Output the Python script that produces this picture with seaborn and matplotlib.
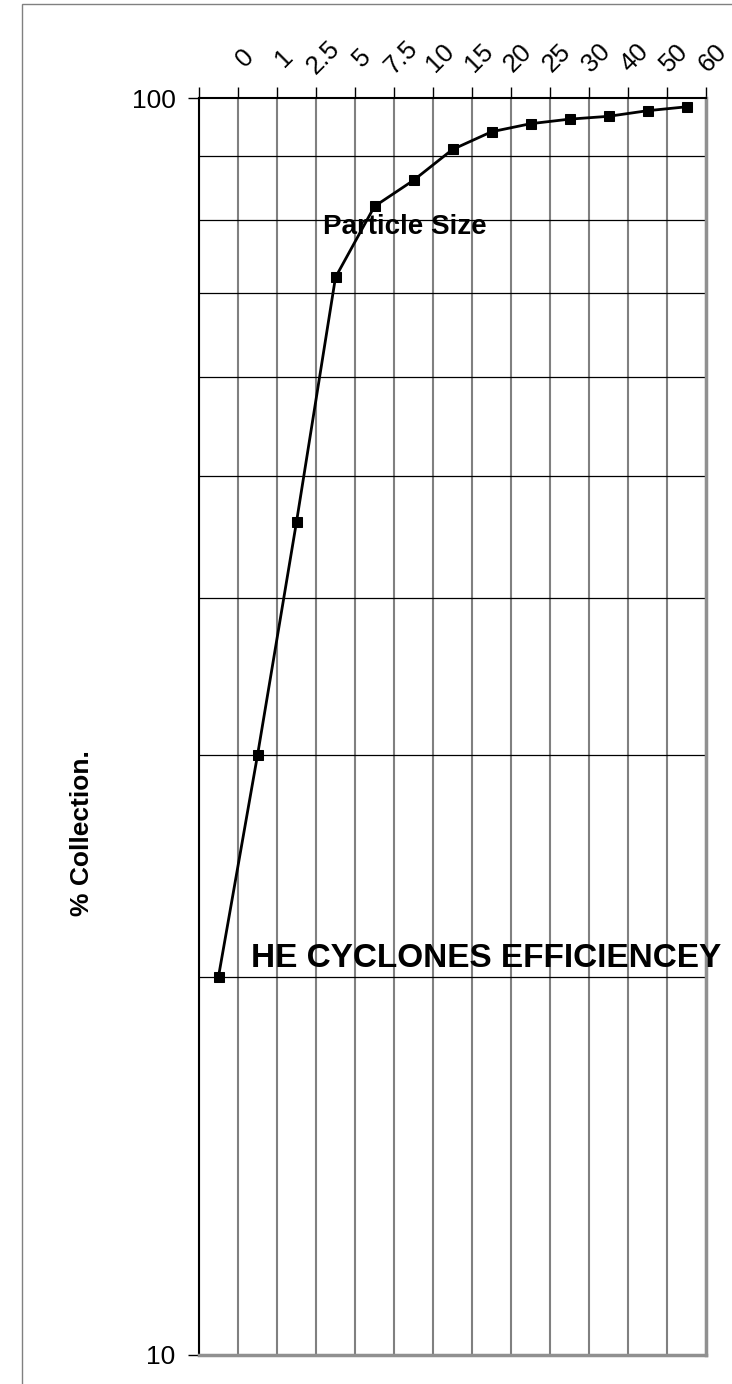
import matplotlib
matplotlib.use('Agg')
import matplotlib.pyplot as plt
import matplotlib.transforms as mtransforms
from matplotlib.patches import Rectangle
from matplotlib.ticker import FixedLocator, NullFormatter
import numpy as np
import pandas as pd
import seaborn as sns

# particle size categories (top axis) and % collection
sizes = ['0', '1', '2.5', '5', '7.5', '10', '15', '20', '25', '30', '40', '50', '60']
collection = [20, 30, 46, 72, 82, 86, 91, 94, 95.4, 96.2, 96.7, 97.7, 98.4]
y_ticks = [10, 100]
y_grid = [20, 30, 40, 50, 60, 70, 80, 90]

sns.set_style('white')
plt.rcParams['font.family'] = ['Liberation Sans', 'DejaVu Sans']
plt.rcParams['text.color'] = 'black'
plt.rcParams['axes.labelcolor'] = 'black'
plt.rcParams['xtick.color'] = 'black'
plt.rcParams['ytick.color'] = 'black'

df = pd.DataFrame({'pos': np.arange(len(sizes)), 'collection': collection})

fig = plt.figure(figsize=(7.32, 13.84), dpi=100)
ax = fig.add_axes([199 / 732, 1 - 1355 / 1384, 507 / 732, 1257 / 1384])

# grey frame round the chart, running off the right and bottom edges
fig.add_artist(Rectangle((22 / 732, -0.05), 1.0, 1 - 4 / 1384 + 0.05,
                         transform=fig.transFigure, fill=False,
                         edgecolor='#808080', lw=1))

sns.lineplot(data=df, x='pos', y='collection', marker='s', markersize=7.5,
             color='black', markeredgecolor='black', lw=2.0, ax=ax, zorder=5)

ax.set_yscale('log')
ax.set_ylim(10, 100)
ax.set_xlim(-0.5, len(sizes) - 0.5)

# y axis: only 10 and 100 labelled, gridlines at the minor decades
ax.set_yticks(y_ticks, labels=[str(v) for v in y_ticks])
ax.yaxis.set_minor_locator(FixedLocator(y_grid))
ax.yaxis.set_minor_formatter(NullFormatter())
ax.tick_params(axis='y', which='minor', length=0)
ax.tick_params(axis='y', which='major', length=8, width=1, color='black',
               pad=9, labelsize=19, left=True)
ax.grid(axis='y', which='minor', color='black', lw=0.9)

# x axis on top, ticks and gridlines at the category boundaries
ax.xaxis.tick_top()
ax.set_xticks(np.arange(-0.5, len(sizes), 1), labels=[''] + sizes)
ax.tick_params(axis='x', which='major', top=True, bottom=False, labeltop=True,
               labelbottom=False, length=8, width=1, color='black', pad=21,
               labelsize=18.5, labelrotation=45)
ax.grid(axis='x', which='major', color='#808080', lw=1.5)
shift = mtransforms.ScaledTranslation(7 / 100, 0, fig.dpi_scale_trans)
for lbl in ax.get_xticklabels():
    lbl.set_ha('center')
    lbl.set_va('center')
    lbl.set_transform(lbl.get_transform() + shift)

ax.set_xlabel('')
ax.set_ylabel('% Collection.', fontsize=19, fontweight='bold')
ax.yaxis.set_label_coords(-0.208, 0.415)

for side in ['left', 'top']:
    ax.spines[side].set_color('black')
    ax.spines[side].set_linewidth(1.5)
for side in ['right', 'bottom']:
    ax.spines[side].set_color('#909090')
    ax.spines[side].set_linewidth(2.5)

fig.text(405 / 732, 1 - 234 / 1384, 'Particle Size', ha='center',
         va='baseline', fontsize=20, fontweight='bold', zorder=10)
fig.text(251 / 732, 1 - 967 / 1384, 'HE CYCLONES EFFICIENCEY', ha='left',
         va='baseline', fontsize=24, fontweight='bold', zorder=10)

fig.savefig('out.png', dpi=100, facecolor='white')
